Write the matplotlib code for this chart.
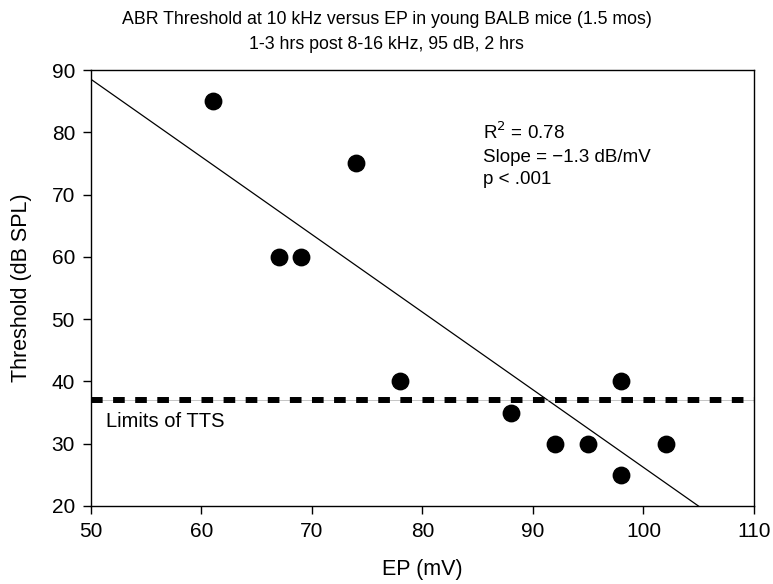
import numpy as np
import matplotlib
matplotlib.use("Agg")
import matplotlib.pyplot as plt

plt.rcParams['font.family'] = ['Liberation Sans', 'DejaVu Sans']

# EP (mV) vs ABR threshold (dB SPL)
ep = [61, 67, 69, 74, 78, 88, 92, 95, 98, 98, 102]
threshold = [85, 60, 60, 75, 40, 35, 30, 30, 40, 25, 30]
tts_limit = 37

x_ticks = [50, 60, 70, 80, 90, 100, 110]
y_ticks = [20, 30, 40, 50, 60, 70, 80, 90]

fig = plt.figure(figsize=(7.73, 5.84), dpi=100)
ax = fig.add_axes([0.1177, 0.1336, 0.8577, 0.7464])

# regression line across the axis range
slope, intercept = np.polyfit(ep, threshold, 1)
xs = np.array([50, 110])
ax.plot(xs, slope * xs + intercept, color='black', lw=0.9)

# limits of TTS: thick dashes with a faint line through the gaps
ax.axhline(tts_limit, color='0.6', lw=0.4)
ax.axhline(tts_limit, color='black', lw=4.3, ls=(0, (1.95, 1.75)))
ax.scatter(ep, threshold, s=140, color='black', zorder=3)

ax.text(85.5, 76.4, "R$^2$ = 0.78\nSlope = \u22121.3 dB/mV\np < .001",
        fontsize=13.5, va='center', ha='left', linespacing=1.4)
ax.text(51.4, 33.5, "Limits of TTS", fontsize=14.5, va='center', ha='left')

ax.set_xlim(50, 110)
ax.set_ylim(20, 90)
ax.set_xticks(x_ticks)
ax.set_yticks(y_ticks)
ax.tick_params(direction='out', length=5.5, width=1, labelsize=15, pad=6)
ax.set_xlabel("EP (mV)", fontsize=15.5, labelpad=13)
ax.set_ylabel("Threshold (dB SPL)", fontsize=15.5, labelpad=14)
for s in ax.spines.values():
    s.set_linewidth(1)

fig.suptitle("ABR Threshold at 10 kHz versus EP in young BALB mice (1.5 mos)\n"
             "1-3 hrs post 8-16 kHz, 95 dB, 2 hrs", fontsize=12.8, y=0.982,
             linespacing=1.65)

fig.savefig("out.png", dpi=100)
